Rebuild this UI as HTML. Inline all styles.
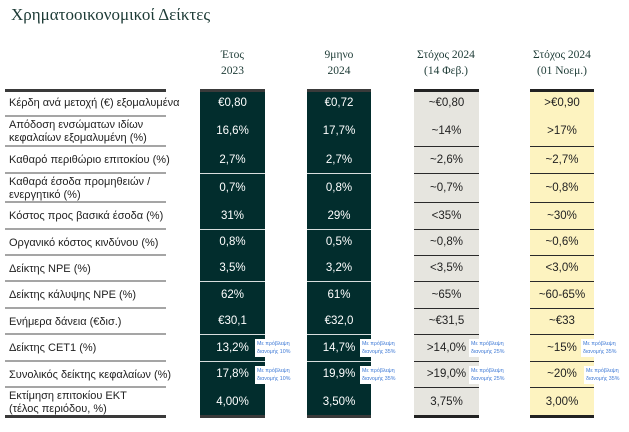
<!DOCTYPE html>
<html><head><meta charset="utf-8">
<style>
body{margin:0;width:629px;height:432px;background:#fff;position:relative;overflow:hidden;font-family:"Liberation Sans","DejaVu Sans",sans-serif}
.a{position:absolute}
.title{left:11px;top:5px;font:17px "Liberation Serif","DejaVu Serif",serif;color:#1d3b36}
.hd{position:absolute;top:47px;text-align:center;font:11.5px/16px "Liberation Serif","DejaVu Serif",serif;color:#1d3b36}
.col{position:absolute;top:89px;height:328px}
.lbl{position:absolute;left:9px;font-size:11px;line-height:13px;color:#222;display:flex;align-items:center}
.val{position:absolute;display:flex;align-items:center;justify-content:center;font-size:11.5px}
.note{position:absolute;background:#fff;color:#3f7ad6;font-size:5.3px;line-height:8px;padding:1px 2px;white-space:nowrap}
</style></head><body>
<div class="a title">Χρηματοοικονομικοί Δείκτες</div>
<div class="hd" style="left:200px;width:65px">Έτος<br>2023</div>
<div class="hd" style="left:307px;width:64px">9μηνο<br>2024</div>
<div class="hd" style="left:404px;width:84px">Στόχος 2024<br>(14 Φεβ.)</div>
<div class="hd" style="left:520px;width:84px">Στόχος 2024<br>(01 Νοεμ.)</div>
<div id="t"></div>
<script>
const bounds=[89,116,146,173,202,229,255,281,308,334,361,387,417];
const labels=["Κέρδη ανά μετοχή (€) εξομαλυμένα","Απόδοση ενσώματων ιδίων<br>κεφαλαίων εξομαλυμένη (%)","Καθαρό περιθώριο επιτοκίου (%)","Καθαρά έσοδα προμηθειών /<br>ενεργητικό (%)","Κόστος προς βασικά έσοδα (%)","Οργανικό κόστος κινδύνου (%)","Δείκτης NPE (%)","Δείκτης κάλυψης NPE (%)","Ενήμερα δάνεια (€δισ.)","Δείκτης CET1 (%)","Συνολικός δείκτης κεφαλαίων (%)","Εκτίμηση επιτοκίου ΕΚΤ<br>(τέλος περιόδου, %)"];
const y2023=["€0,80","16,6%","2,7%","0,7%","31%","0,8%","3,5%","62%","€30,1","13,2%","17,8%","4,00%"];
const m9_2024=["€0,72","17,7%","2,7%","0,8%","29%","0,5%","3,2%","61%","€32,0","14,7%","19,9%","3,50%"];
const tFeb=["~€0,80","~14%","~2,6%","~0,7%","<35%","~0,8%","<3,5%","~65%","~€31,5",">14,0%",">19,0%","3,75%"];
const tNov=[">€0,90",">17%","~2,7%","~0,8%","~30%","~0,6%","<3,0%","~60-65%","~€33","~15%","~20%","3,00%"];
const notes=[["Με πρόβλεψη<br>διανομής 10%","Με πρόβλεψη<br>διανομής 35%","Με πρόβλεψη<br>διανομής 25%","Με πρόβλεψη<br>διανομής 35%"],["Με πρόβλεψη<br>διανομής 10%","Με πρόβλεψη<br>διανομής 35%","Με πρόβλεψη<br>διανομής 25%","Με πρόβλεψη<br>διανομής 35%"]];
const cols=[{x:200,w:65,bg:"#022d2d",fg:"#fff",line:"#d8dede",data:y2023,nx:255},{x:307,w:64,bg:"#022d2d",fg:"#fff",line:"#d8dede",data:m9_2024,nx:360},{x:414,w:65,bg:"#e6e5df",fg:"#222",line:"#2a2a2a",data:tFeb,nx:469},{x:530,w:64,bg:"#fdf3c0",fg:"#222",line:"#2a2a2a",data:tNov,nx:581}];
const darkLines=[3,5,7,9,10];
const T=document.getElementById('t');
function box(css){const d=document.createElement('div');d.className='a';d.style.cssText=css;T.appendChild(d);return d;}
// label column top/bottom bars
let b=box('left:5px;top:89px;width:161px;height:3px;background:#3a3a3a');


b=box('left:5px;top:415px;width:161px;height:3px;background:#3a3a3a');


for(let i=0;i<labels.length;i++){
  const y0=bounds[i],y1=bounds[i+1];
  const l=document.createElement('div');l.className='lbl';
  l.style.top=(y0+2)+'px';l.style.height=(y1-y0-2)+'px';l.innerHTML=labels[i];
  
  
  T.appendChild(l);
  if(i>0){const s=box('left:5px;top:'+(y0-1)+'px;width:161px;height:2px;background:#a5a5a5');
    
    }
}
cols.forEach((c,ci)=>{
  const cb=box('left:'+c.x+'px;top:89px;width:'+c.w+'px;height:328px;background:'+c.bg);
  
  
  const tb=box('left:'+c.x+'px;top:89px;width:'+c.w+'px;height:3px;background:'+(ci<2?'#3a3a3a':'#222'));
  
  
  const bb=box('left:'+c.x+'px;top:415px;width:'+c.w+'px;height:3px;background:'+(ci<2?'#3a3a3a':'#222'));
  
  
  for(let i=0;i<c.data.length;i++){
    const y0=bounds[i],y1=bounds[i+1];
    if(i>1 && (ci>=2 || darkLines.includes(i))){
      const s=box('left:'+c.x+'px;top:'+y0+'px;width:'+c.w+'px;height:1px;background:'+c.line);
      
      
    }
    const v=document.createElement('div');v.className='val';
    v.style.cssText+='left:'+c.x+'px;width:'+c.w+'px;top:'+y0+'px;height:'+(y1-y0)+'px;color:'+c.fg;
    v.textContent=c.data[i];
    
    
    T.appendChild(v);
  }
  for(let k=0;k<2;k++){
    const n=document.createElement('div');n.className='note';
    n.style.left=(c.nx+(k==1&&ci==3?3:0))+'px';n.style.top=(bounds[9+k]+5)+'px';
    n.innerHTML=notes[k][ci];
    
    
    T.appendChild(n);
  }
});
</script>
</body></html>
